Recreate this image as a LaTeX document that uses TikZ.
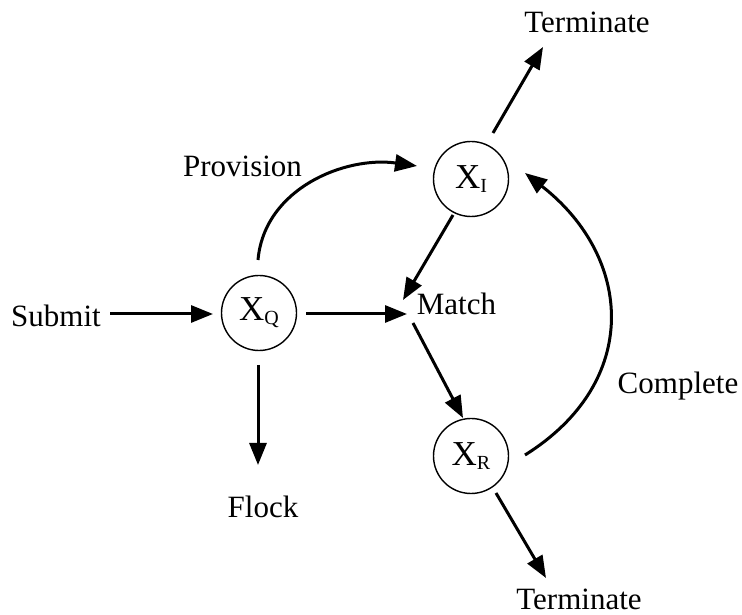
\documentclass[tikz,border=0pt]{standalone}
\usepackage{fontspec}
\setmainfont{Liberation Serif}
\usetikzlibrary{arrows.meta,calc}
\newcommand{\statelabel}[1]{X\raisebox{-4pt}{\fontsize{20}{20}\selectfont #1}}
\begin{document}
\begin{tikzpicture}[x=1pt,y=1pt,
  lbl/.style={inner sep=0pt,anchor=base,font=\fontsize{31}{36}\selectfont},
  state/.style={draw,circle,line width=1.4pt,minimum size=75pt,inner sep=0pt,font=\fontsize{35}{40}\selectfont},
  arr/.style={line width=3pt,-{Triangle[length=22pt,width=17pt]}}]
\useasboundingbox (0,0) rectangle (742,615);
% states
\node[state] (xq) at (259,302) {\statelabel{Q}};
\node[state] (xi) at (471,436) {\statelabel{I}};
\node[state] (xr) at (471,159) {\statelabel{R}};
% labels
\node[lbl] (submit) at (56,288) {Submit};
\node[lbl] (provision) at (242.5,438) {Provision};
\node[lbl] (match) at (456.5,300) {Match};
\node[lbl] (flock) at (263,97) {Flock};
\node[lbl] (termtop) at (587,582) {Terminate};
\node[lbl] (termbot) at (579,5) {Terminate};
\node[lbl] (complete) at (678,221.5) {Complete};
% connectors
\draw[arr] ($(submit.base)+(54,13)$) -- ($(xq)+(-46,-1)$);
\draw[arr] ($(xq)+(47,-1)$) -- ($(match.base)+(-49.5,1)$);
\draw[arr] ($(xi)+(-18,-36)$) -- ($(match.base)+(-53.5,15)$);
\draw[arr] ($(match.base)+(-43.5,-8)$) -- ($(xr)+(-8,38)$);
\draw[arr] ($(xq)+(-1,-52)$) -- ($(flock.base)+(-5,53)$);
\draw[arr] ($(xq)+(-1,53)$) to[out=85,in=172] ($(xi)+(-54,13)$);
\draw[arr] ($(xi)+(22,46)$) -- ($(termtop.base)+(-44,-14)$);
\draw[arr] ($(xr)+(25,-37)$) -- ($(termbot.base)+(-33,32)$);
\draw[arr] ($(xr)+(54,1)$) to[out=32,in=-38,looseness=1.25] ($(xi)+(54,6)$);
\end{tikzpicture}
\end{document}
